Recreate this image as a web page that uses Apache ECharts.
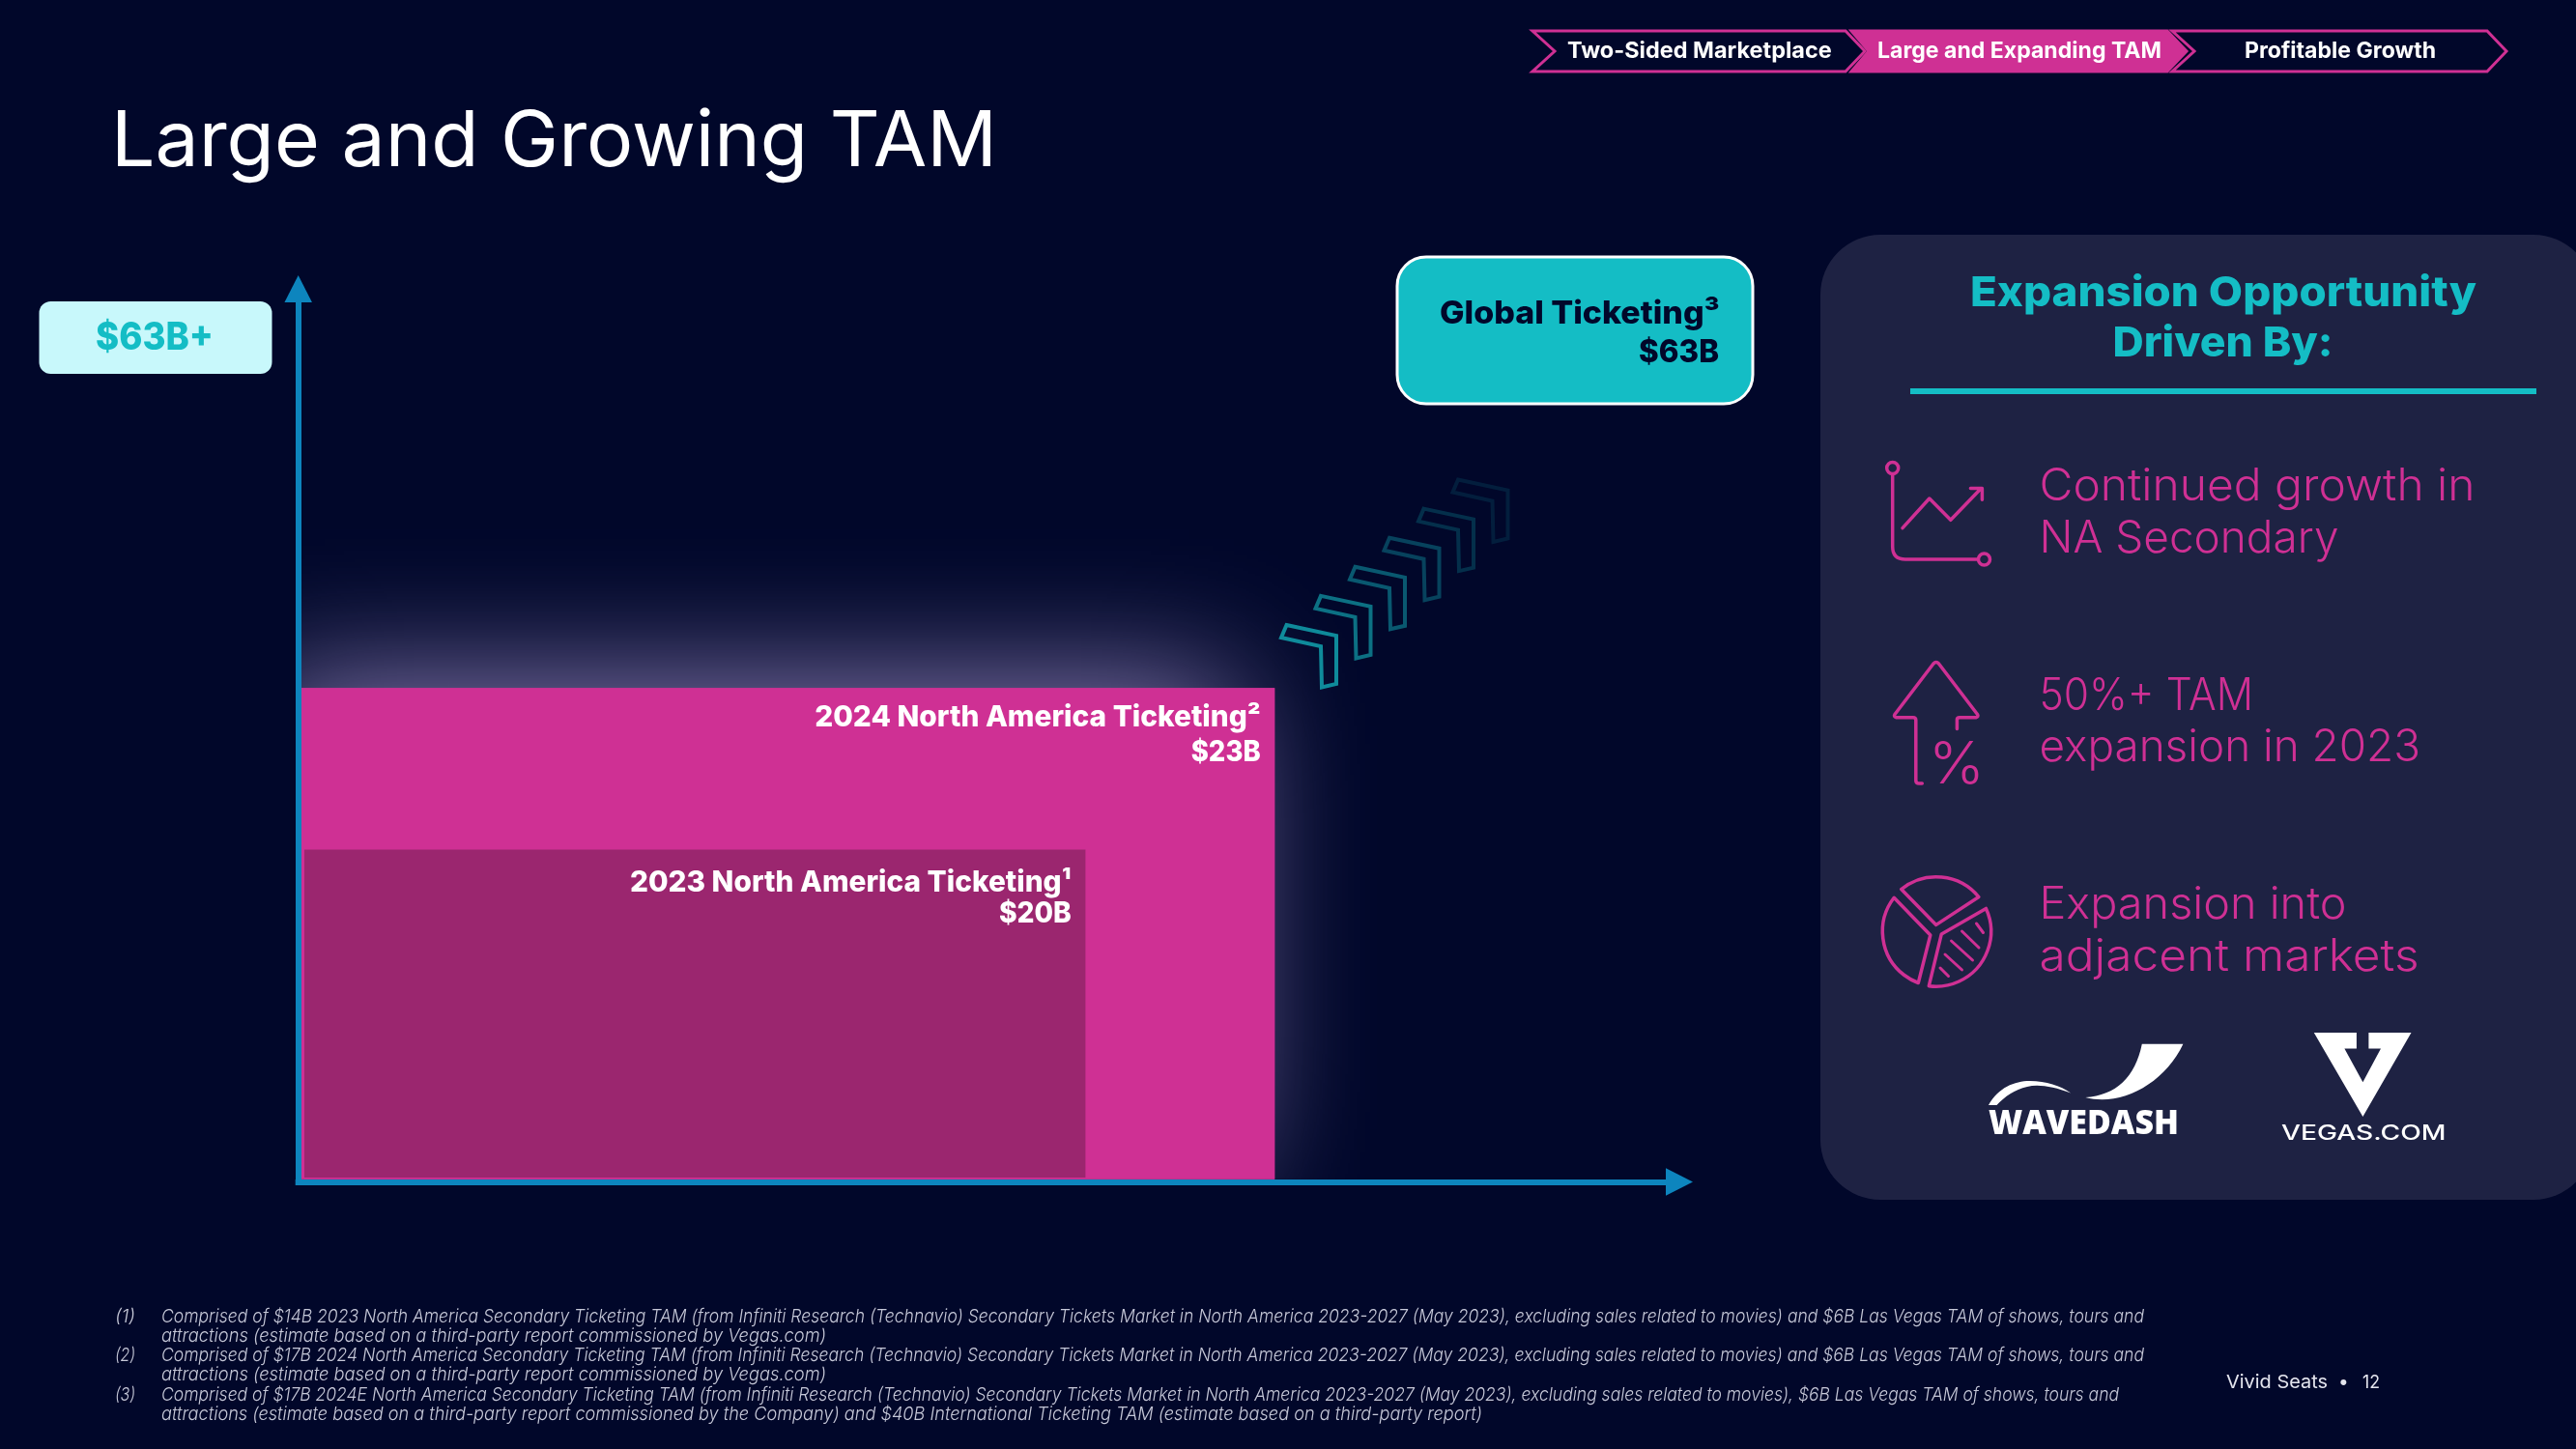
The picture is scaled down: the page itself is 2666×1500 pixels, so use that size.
<!DOCTYPE html>
<html><head><meta charset="utf-8">
<style>html,body{margin:0;padding:0;background:#01072A}#c{width:2666px;height:1500px}</style>
<script src="https://cdn.jsdelivr.net/npm/echarts@6/dist/echarts.min.js"></script>
</head><body><div id="c"></div>
<script>
// ---- data ----
const categories = ['2024 North America Ticketing\u00B2', '2023 North America Ticketing\u00B9'];
const tamLabels = ['$23B', '$20B'];
const globalLabel = 'Global Ticketing\u00B3';
const globalValue = '$63B';
const axisTopLabel = '$63B+';
// schematic box extents, in percent of each arrow axis (picture is not to scale)
const xStarts = [0.2, 0.44];
const xEnds = [70.7, 57.0];
const yStarts = [0.3, 0.49];
const yEnds = [55.3, 37.2];
const steps = ['Two-Sided Marketplace', 'Large and Expanding TAM', 'Profitable Growth'];
const driverLines = [['Continued growth in', 'NA Secondary'], ['50%+ TAM', 'expansion in 2023'], ['Expansion into', 'adjacent markets']];
const notes = [
 ['(1)', 'Comprised of $14B 2023 North America Secondary Ticketing TAM (from Infiniti Research (Technavio) Secondary Tickets Market in North America 2023-2027 (May 2023), excluding sales related to movies) and $6B Las Vegas TAM of shows, tours and', 'attractions (estimate based on a third-party report commissioned by Vegas.com)'],
 ['(2)', 'Comprised of $17B 2024 North America Secondary Ticketing TAM (from Infiniti Research (Technavio) Secondary Tickets Market in North America 2023-2027 (May 2023), excluding sales related to movies) and $6B Las Vegas TAM of shows, tours and', 'attractions (estimate based on a third-party report commissioned by Vegas.com)'],
 ['(3)', 'Comprised of $17B 2024E North America Secondary Ticketing TAM (from Infiniti Research (Technavio) Secondary Tickets Market in North America 2023-2027 (May 2023), excluding sales related to movies), $6B Las Vegas TAM of shows, tours and', 'attractions (estimate based on a third-party report commissioned by the Company) and $40B International Ticketing TAM (estimate based on a third-party report)']
];

// ---- style ----
const BG = '#01072A', PINK = '#CF3094', DARK = '#9B266F', TEAL = '#14BDC5', PANEL = '#1E2243', AXIS = '#0D85BE';
const FONT = 'Inter, "Open Sans", sans-serif';
const ctx = document.createElement('canvas').getContext('2d');
// text fitted to a measured width, positioned by its left edge and baseline
function T(text, left, base, width, font, fill) {
  ctx.font = font; ctx.textBaseline = 'middle';
  const m = ctx.measureText('H');
  const w = ctx.measureText(text).width;
  return { type: 'text', x: left, y: base - m.actualBoundingBoxDescent, scaleX: width ? width / w : 1, z: 20,
    style: { text, font, fill, align: 'left', verticalAlign: 'middle' } };
}
let pathId = 0;
const path = (d, o) => {
  const name = 'iconPath' + (pathId++);
  echarts.graphic.registerShape(name, echarts.graphic.extendPath(d, {}));
  return Object.assign({ type: name, z: 10, style: { fill: 'none', stroke: PINK, lineWidth: 3.5, lineCap: 'round', lineJoin: 'round' } }, o || {});
};
const poly = (pts, fill, stroke, lw, op) => ({ type: 'polygon', z: 10, shape: { points: pts }, style: { fill, stroke, lineWidth: lw || 0, opacity: op == null ? 1 : op, lineJoin: 'miter' } });

const g = [];
// breadcrumb chevrons
const chev = [[1586, 1609, 1910, 1930], [1916, 1934, 2243, 2263], [2248, 2271, 2574, 2594]];
const stepX = [[1622, 273.7], [1943, 294], [2323, 198]];
chev.forEach((c, i) => {
  g.push(poly([[c[0], 32], [c[2], 32], [c[3], 53], [c[2], 74], [c[0], 74], [c[1], 53]], i === 1 ? PINK : 'none', PINK, 3));
  g.push(T(steps[i], stepX[i][0], 60, stepX[i][1], '700 23px ' + FONT, '#fff'));
});
// title
g.push(T('Large and Growing TAM', 115, 172, 917, '400 80px ' + FONT, '#fff'));
// axis top value
g.push({ type: 'rect', z: 5, shape: { x: 40.5, y: 312, width: 241, height: 75, r: 12 }, style: { fill: '#C8F8FB' } });
g.push(T(axisTopLabel, 99, 362, 122, '800 39px ' + FONT, TEAL));
// global ticketing callout
g.push({ type: 'rect', z: 5, shape: { x: 1446, y: 266, width: 368, height: 152, r: 30 }, style: { fill: TEAL, stroke: '#fff', lineWidth: 3 } });
g.push(T(globalLabel, 1490, 335, 290, '800 33px ' + FONT, BG));
g.push(T(globalValue, 1696, 375, 83, '800 33px ' + FONT, BG));
// growth chevrons
[.72, .58, .45, .33, .22, .13].forEach((op, i) => {
  const dx = i * 35.5, dy = -i * 30.1;
  const pts = [[1331.5, 647], [1383, 658], [1383, 708], [1368, 711.5], [1367, 669], [1326, 660]];
  g.push(poly(pts.map(p => [p[0] + dx, p[1] + dy]), 'none', TEAL, 4, op));
});
// right panel
g.push({ type: 'rect', z: 1, shape: { x: 1884, y: 243, width: 800, height: 999, r: 62 }, style: { fill: PANEL } });
g.push(T('Expansion Opportunity', 2039, 316.5, 524, '800 43px ' + FONT, TEAL));
g.push(T('Driven By:', 2186.5, 369, 228, '800 43px ' + FONT, TEAL));
g.push({ type: 'rect', z: 5, shape: { x: 1977, y: 402, width: 648, height: 6 }, style: { fill: TEAL } });
const drv = [[[518, 451], [572, 310]], [[735, 221.5], [788, 394.5]], [[951, 318], [1004.5, 393]]];
driverLines.forEach((ls, i) => ls.forEach((s, j) => g.push(T(s, 2110.5, drv[i][j][0], drv[i][j][1], '350 46px ' + FONT, PINK))));
// icon: line chart
g.push({ type: 'circle', z: 10, shape: { cx: 1958.7, cy: 484.5, r: 6 }, style: { fill: 'none', stroke: PINK, lineWidth: 3.5 } });
g.push({ type: 'circle', z: 10, shape: { cx: 2053.5, cy: 579, r: 6 }, style: { fill: 'none', stroke: PINK, lineWidth: 3.5 } });
g.push(path('M1958.7 491 L1958.7 566 Q1958.7 579 1972 579 L2047 579'));
g.push(path('M1969 546.7 L1996.8 516 L2018.8 538.3 L2050.4 505.5 M2039.4 505.5 L2051.4 505.5 L2051.4 517.3'));
// icon: arrow with percent
g.push(path('M2025.4 754.6 L2025.4 745 Q2025.4 742.7 2028 742.7 L2045 742.7 Q2048 742 2046.5 739.5 L2006.5 687 Q2003.8 684 2001 687 L1961 739.5 Q1959.5 742 1962.5 742.7 L1980 742.7 Q1982.8 742.7 1982.8 745.5 L1982.8 808 Q1982.8 811 1986 811 L1989.3 811'));
g.push(T('%', 1996, 811, 58, '300 60px ' + FONT, PINK));
// icon: pie
g.push(path('M1967.7 920.6 A57 57 0 0 1 2047.9 928.5 L2003.8 957.4 Z'));
g.push(path('M1960.2 929.3 A57 57 0 0 0 1985.3 1017.5 L1997.8 968 Z'));
g.push(path('M2055.4 940.4 A57 57 0 0 1 1996.3 1020.7 L2009.3 966.9 Z'));
g.push(path('M2045.5 956 L2052.5 965.5 M2030.5 964 L2048 981 M2019.5 974 L2041.5 994 M2013 988 L2030.5 1004 M2008 1002 L2016.5 1010.5', { style: { fill: 'none', stroke: PINK, lineWidth: 3, lineCap: 'round' } }));
// logos
g.push(path('M2158.2 1136.1 C2190 1134 2210 1115 2216.8 1080.8 L2259.4 1080.8 C2240 1122 2195 1146 2158.2 1136.1 Z', { style: { fill: '#fff' } }));
g.push(path('M2058 1144 C2068 1126 2085 1119 2100.6 1119 C2118 1119 2132 1124 2143.2 1131.4 C2125 1125 2110 1122 2098 1125 C2085 1128 2075 1135 2066.5 1144 Z', { style: { fill: '#fff' } }));
g.push(T('WAVEDASH', 2058, 1174, 197, '800 35px "Open Sans", sans-serif', '#fff'));
g.push(poly([[2394.8, 1068.9], [2438.9, 1068.9], [2438.9, 1085.5], [2426.4, 1085.5], [2445.4, 1120.3], [2464, 1085.5], [2451.4, 1085.5], [2451.4, 1068.9], [2495.5, 1068.9], [2445.4, 1155.9]], '#fff'));
g.push(T('VEGAS.COM', 2361, 1179.5, 170.5, '500 21px ' + FONT, '#fff'));
// footnotes
const noteFont = 'italic 300 19px ' + FONT, noteFill = '#C6C8D8';
const noteW = [[2052, 688], [2052, 688], [2026, 1367]];
notes.forEach((n, i) => {
  const b = 1368.5 + i * 40.5;
  g.push(T(n[0], 119, b, 21, noteFont, noteFill));
  g.push(T(n[1], 167, b, noteW[i][0], noteFont, noteFill));
  g.push(T(n[2], 167, b + 20.2, noteW[i][1], noteFont, noteFill));
});
// footer
const footFont = '400 19px ' + FONT;
g.push(T('Vivid Seats', 2304, 1436.5, 105, footFont, '#E4E5EE'));
g.push(T('\u2022', 2420, 1436.5, 0, footFont, '#E4E5EE'));
g.push(T('12', 2445, 1436.5, 18, footFont, '#E4E5EE'));

const rows = categories.map((c, i) => [xStarts[i], xEnds[i], yStarts[i], yEnds[i], c, tamLabels[i]]);
const labelW = [[461.5, 72], [457, 75]];
const labelDrop = [39.7, 43];

const chart = echarts.init(document.getElementById('c'), null, { renderer: 'canvas', width: 2666, height: 1500 });
const axisLine = { show: true, symbol: ['none', 'triangle'], symbolSize: [28.5, 28], lineStyle: { color: AXIS, width: 6, cap: 'square' } };
chart.setOption({
  animation: false,
  backgroundColor: BG,
  grid: { left: 308.7, top: 299, width: 1429.3, height: 924.5 },
  xAxis: { type: 'value', min: 0, max: 100, z: 5, axisLine, axisTick: { show: false }, axisLabel: { show: false }, splitLine: { show: false } },
  yAxis: { type: 'value', min: 0, max: 100, z: 5, axisLine, axisTick: { show: false }, axisLabel: { show: false }, splitLine: { show: false } },
  graphic: { elements: g },
  series: [
    { // soft glow behind the 2024 box
      type: 'custom', coordinateSystem: 'cartesian2d', clip: false, z: 1, silent: true,
      data: rows.slice(0, 1),
      encode: { x: [0, 1], y: [2, 3] },
      renderItem(p, api) {
        const a = api.coord([api.value(0), api.value(2)]), b = api.coord([api.value(1), api.value(3)]);
        return { type: 'rect', shape: { x: a[0], y: b[1], width: b[0] - a[0], height: a[1] - b[1] },
          style: { fill: PINK, shadowBlur: 130, shadowOffsetX: -42, shadowOffsetY: -6, shadowColor: 'rgba(150,135,190,0.95)' },
          clipPath: { type: 'rect', shape: { x: a[0], y: b[1] - 400, width: 2000, height: a[1] - b[1] + 400 } } };
      }
    },
    {
      type: 'custom', coordinateSystem: 'cartesian2d', clip: false, z: 2,
      data: rows,
      encode: { x: [0, 1], y: [2, 3] },
      renderItem(p, api) {
        const i = p.dataIndex;
        const a = api.coord([api.value(0), api.value(2)]), b = api.coord([api.value(1), api.value(3)]);
        return { type: 'group', children: [
          { type: 'rect', shape: { x: a[0], y: b[1], width: b[0] - a[0], height: a[1] - b[1] }, style: { fill: i === 0 ? PINK : DARK } },
          T(rows[i][4], b[0] - 14.5 - labelW[i][0], b[1] + labelDrop[i], labelW[i][0], '800 30px ' + FONT, '#fff'),
          T(rows[i][5], b[0] - 14.5 - labelW[i][1], b[1] + 75.3, labelW[i][1], '800 30px ' + FONT, '#fff')
        ] };
      }
    }
  ]
});
</script></body></html>
